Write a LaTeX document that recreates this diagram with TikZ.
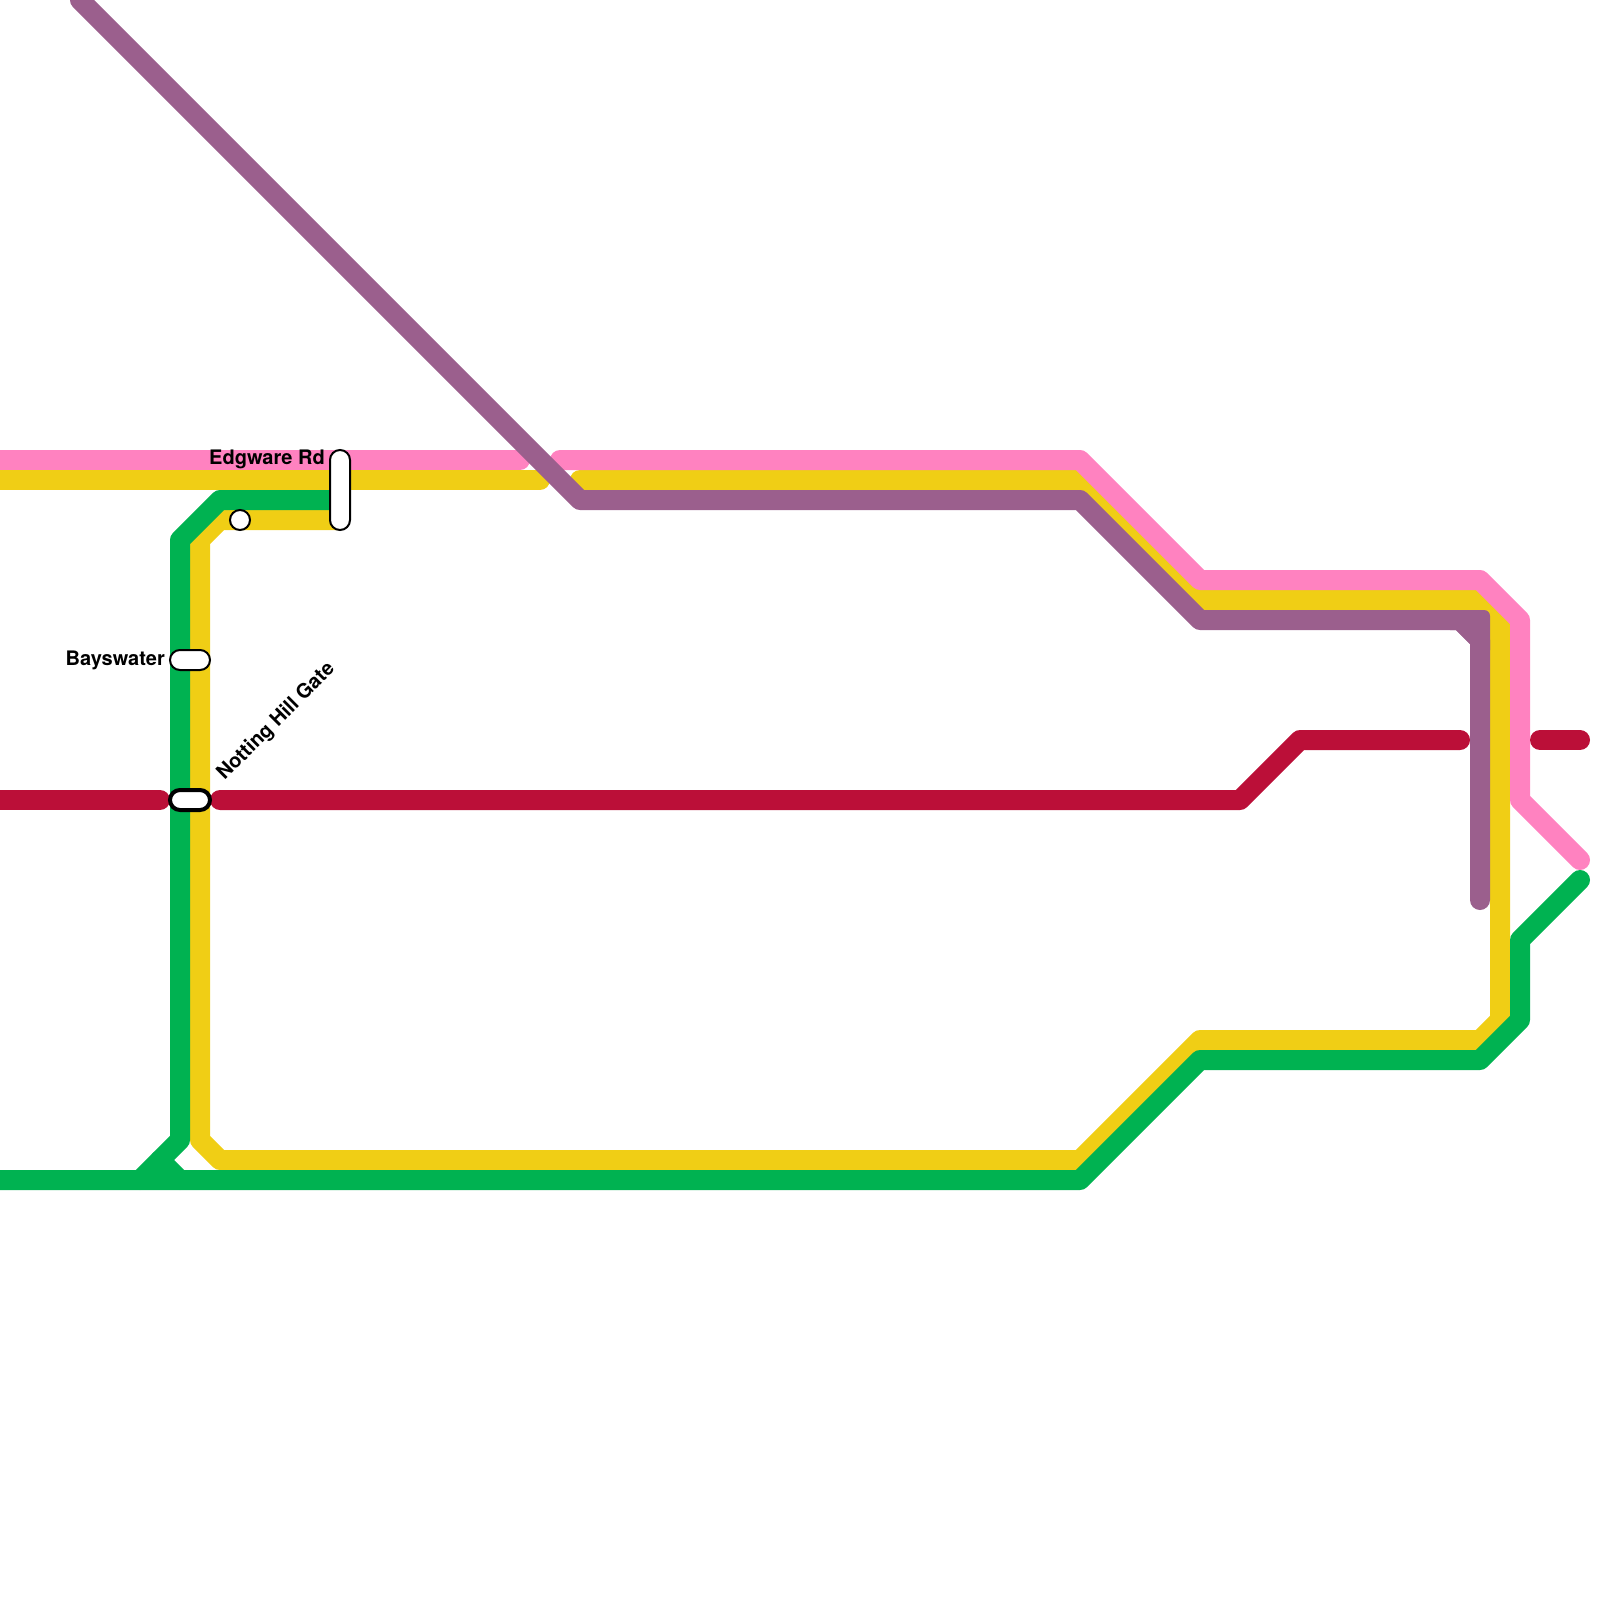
\documentclass[tikz,border=0pt]{standalone}
\usepackage{fontspec}
\setmainfont{TeX Gyre Heros}
\definecolor{cyellow}{HTML}{F0CE15}
\definecolor{cgreen}{HTML}{00B251}
\definecolor{cpink}{HTML}{FF82C0}
\definecolor{cpurple}{HTML}{9B5F8D}
\definecolor{cred}{HTML}{BB0F38}
\tikzset{
  tube/.style={line width=20pt,line cap=round,line join=round},
  stn/.style={draw=black,fill=white,line width=2pt,rounded corners=10pt,inner sep=0pt,minimum width=40pt,minimum height=20pt,text height=0pt},
  lbl/.style={font=\bfseries\fontsize{20}{24}\selectfont,inner sep=0pt,text=black}
}
\begin{document}
\begin{tikzpicture}[x=1pt,y=-1pt]
\useasboundingbox (0,0) rectangle (1600,1600);
\begin{scope}
\clip (0,0) rectangle (1600,1600);
% yellow
\draw[tube,cyellow] (-20,480) -- (540,480);
\draw[tube,cyellow] (580,480) -- (1080,480) -- (1200,600) -- (1480,600) -- (1500,620) -- (1500,1020) -- (1480,1040) -- (1200,1040) -- (1080,1160) -- (220,1160) -- (200,1140) -- (200,540) -- (220,520) -- (340,520);
% green
\draw[tube,cgreen] (1580,880) -- (1520,940) -- (1520,1020) -- (1480,1060) -- (1200,1060) -- (1080,1180) -- (-20,1180);
\draw[tube,cgreen] (340,500) -- (220,500) -- (180,540) -- (180,1140) -- (140,1180);
\draw[tube,cgreen] (160,1160) -- (180,1180);
% pink
\draw[tube,cpink] (-20,460) -- (520,460);
\draw[tube,cpink] (560,460) -- (1080,460) -- (1200,580) -- (1480,580) -- (1520,620) -- (1520,800) -- (1580,860);
% purple
\draw[tube,cpurple] (80,0) -- (580,500) -- (1080,500) -- (1200,620) -- (1460,620) -- (1480,640) -- (1480,900);
\fill[cpurple] (1450,610) [rounded corners=6pt] -- (1490,610) [sharp corners] -- (1490,650) -- (1470,650) -- (1470,644) -- (1456,630) -- (1450,630) -- cycle;
% red
\draw[tube,cred] (-20,800) -- (160,800);
\draw[tube,cred] (220,800) -- (1240,800) -- (1300,740) -- (1460,740);
\draw[tube,cred] (1540,740) -- (1580,740);
\end{scope}
% stations
\node[stn,minimum width=20pt,minimum height=80pt] (edgware) at (340,490) {};
\node[stn,circle,minimum width=20pt,minimum height=20pt,rounded corners=0pt] (paddington) at (240,520) {};
\node[stn] (bayswater) at (190,660) {};
\node[stn,line width=4pt] (notting) at (190,800) {};
% labels
\node[lbl,anchor=base east] (edgwarelbl) at (325,464) {Edgware Rd};
\node[lbl,anchor=base east] (bayswaterlbl) at (165,665) {Bayswater};
\node[lbl,anchor=base west,rotate=45] (nottinglbl) at (224.5,781) {Notting Hill Gate};
\end{tikzpicture}
\end{document}
